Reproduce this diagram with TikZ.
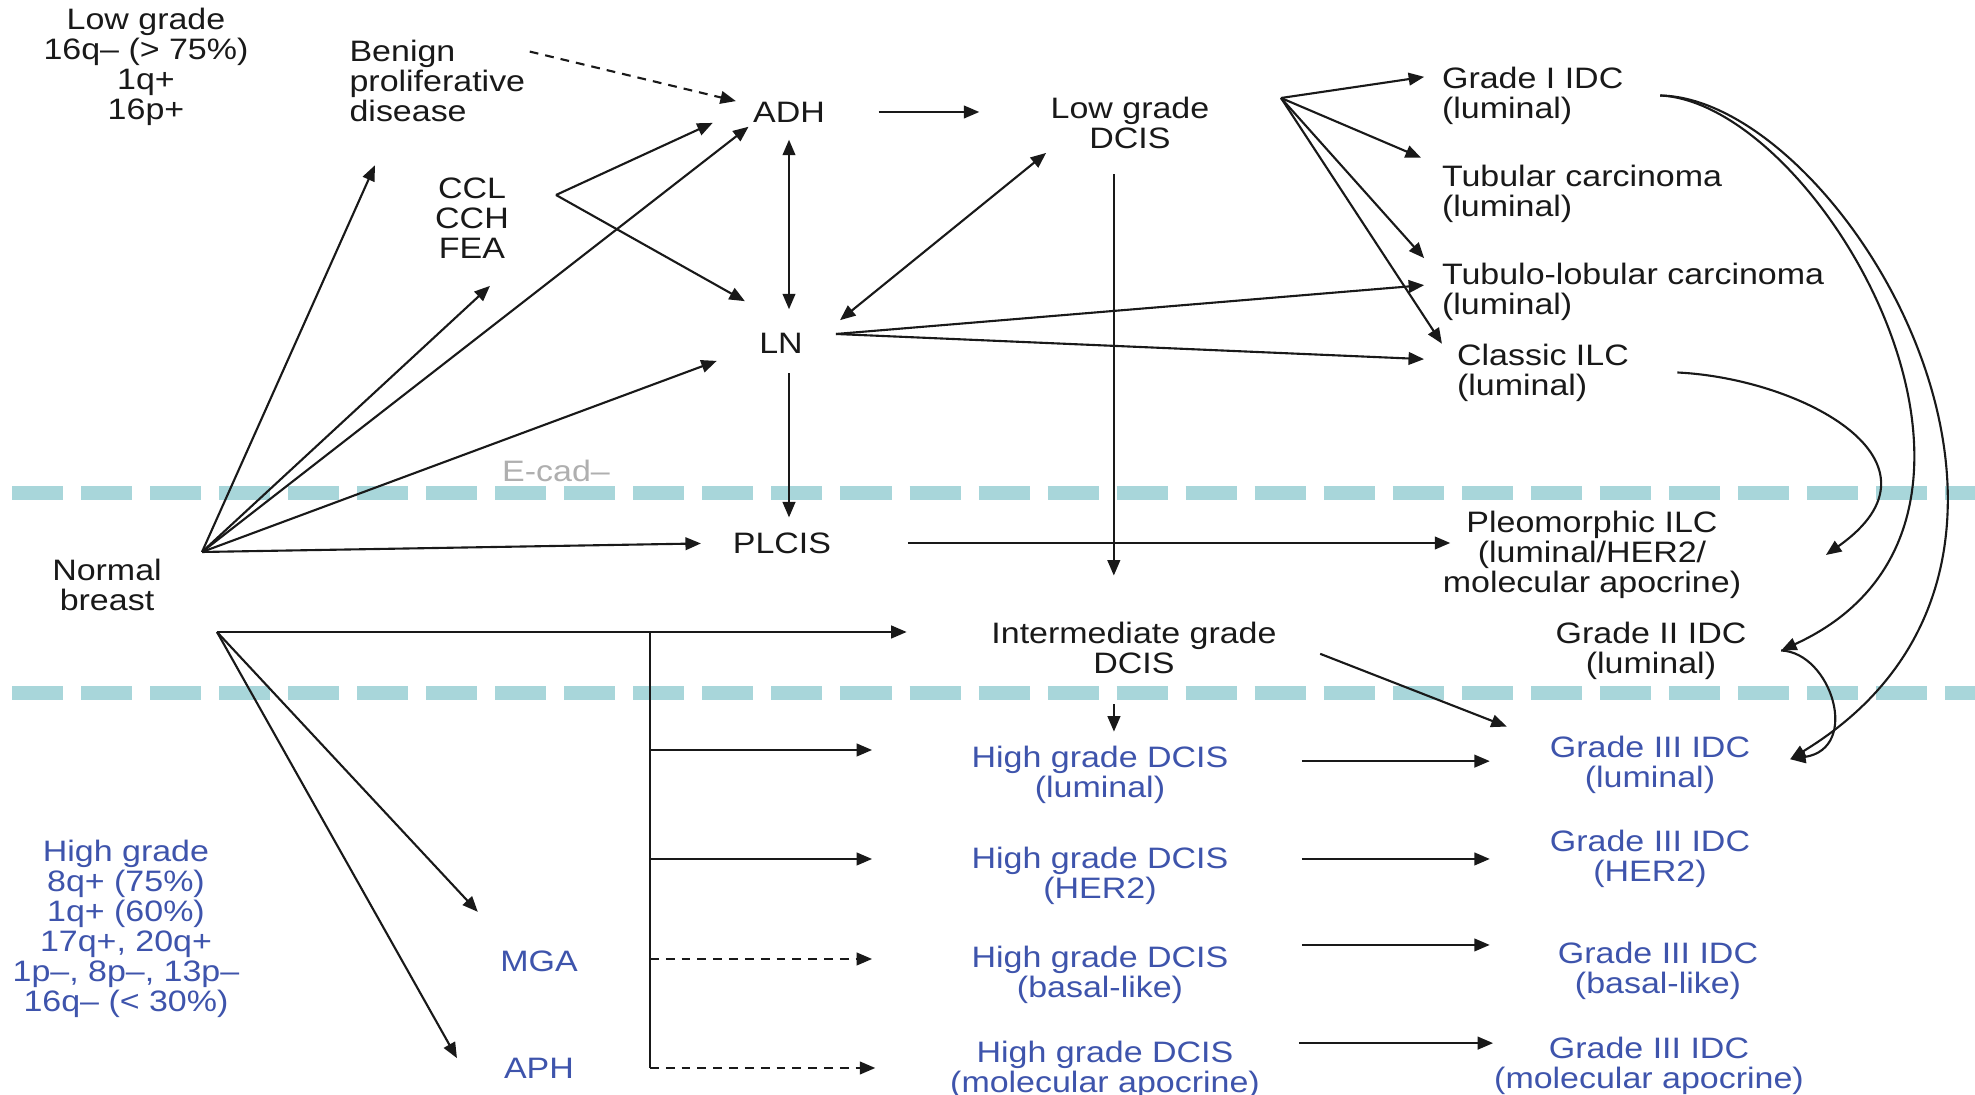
\documentclass[tikz,border=0pt]{standalone}
\usepackage{fontspec}
\setmainfont{Liberation Sans}[FakeStretch=1.15]
\usetikzlibrary{arrows.meta}
\definecolor{ink}{RGB}{25,25,25}
\definecolor{hgblue}{RGB}{62,84,172}
\definecolor{bandteal}{RGB}{168,214,218}
\definecolor{ecadgrey}{RGB}{175,175,175}
\begin{document}
\begin{tikzpicture}[x=0.01cm,y=-0.01cm,->,>={Triangle[length=4.4pt,width=3.6pt]},
                    semithick,color=ink,
                    every node/.style={font=\fontsize{8.4}{8.54}\selectfont,inner sep=1pt},
                    lbl/.style={align=center},
                    lft/.style={align=left,anchor=west},
                    hg/.style={align=center,text=hgblue},
                    dsh/.style={dash pattern=on 2.5pt off 2pt},
                    cut/.style={-,line width=4pt,draw=bandteal,dash pattern=on 0.51cm off 0.18cm}]
 \useasboundingbox (0,0) rectangle (1975,1095);
 \fill[white,-] (0,0) rectangle (1975,1095);

% E-cad and high grade cut lines
 \draw[cut] (12,493) -- (1975,493);
 \draw[cut] (12,693) -- (1975,693);

 \node [lbl]      (lowg) at (146,67) {Low grade\\16q– (> 75\%)\\1q+\\16p+};
 \node [lft]      (benign) at (345,80.5) {Benign\\proliferative\\disease};
 \node [lbl]      (ccl) at (472,218.5) {CCL\\CCH\\FEA};
 \node [lbl]      (adh) at (789,112) {ADH};
 \node [lbl]      (ln) at (781,343) {LN};
 \node [lbl]      (ldcis) at (1130,122.5) {Low grade\\DCIS};
 \node [lft]      (g1) at (1437.5,95.5) {Grade I IDC\\(luminal)};
 \node [lft]      (tub) at (1437.5,193.5) {Tubular carcinoma\\(luminal)};
 \node [lft]      (tubl) at (1437.5,291.5) {Tubulo-lobular carcinoma\\(luminal)};
 \node [lft]      (cilc) at (1452.5,372.5) {Classic ILC\\(luminal)};
 \node [lbl,text=ecadgrey] (ecad) at (556,471) {E-cad–};

 \node [lbl]      (normal) at (107,584.5) {Normal\\breast};
 \node [lbl]      (plcis) at (782,543) {PLCIS};
 \node [lbl]      (pilc) at (1592,555) {Pleomorphic ILC\\(luminal/HER2/\\molecular apocrine)};
 \node [lbl]      (idcis) at (1134,647.5) {Intermediate grade\\DCIS};
 \node [lbl]      (g2) at (1651,650.5) {Grade II IDC\\(luminal)};

 \node [hg]       (hgrade) at (126,928.5) {High grade\\8q+ (75\%)\\1q+ (60\%)\\17q+, 20q+\\1p–, 8p–, 13p–\\16q– (< 30\%)};
 \node [hg]       (mga) at (539,961) {MGA};
 \node [hg]       (aph) at (539,1068) {APH};
 \node [hg]       (hg1) at (1100,774.5) {High grade DCIS\\(luminal)};
 \node [hg]       (hg2) at (1100,875.5) {High grade DCIS\\(HER2)};
 \node [hg]       (hg3) at (1100,974.5) {High grade DCIS\\(basal-like)};
 \node [hg]       (hg4) at (1105,1069.5) {High grade DCIS\\(molecular apocrine)};
 \node [hg]       (g3a) at (1650,764.5) {Grade III IDC\\(luminal)};
 \node [hg]       (g3b) at (1650,858.5) {Grade III IDC\\(HER2)};
 \node [hg]       (g3c) at (1658,970.5) {Grade III IDC\\(basal-like)};
 \node [hg]       (g3d) at (1649,1065.5) {Grade III IDC\\(molecular apocrine)};

 \coordinate (cclfork) at (556,195);
 \coordinate (lnfork) at (836,334);
 \coordinate (ldfork) at (1281,98);
 \coordinate (nbA) at (202,552);
 \coordinate (nbB) at (217,632);
 \coordinate (trunk) at (650,632);
 \coordinate (br1) at (650,750);
 \coordinate (br2) at (650,859);
 \coordinate (br3) at (650,959);
 \coordinate (br4) at (650,1068);

 \path ([yshift=-4.7pt]benign.north east) edge [dsh] ([shift={(-3.6pt,3.1pt)}]adh.west)
       (adh.east) edge [shorten <=14pt,shorten >=19pt] (adh.east -| ldcis.west)
       (adh.south) edge [<->,shorten <=3.7pt,shorten >=5.4pt] (adh.south |- ln.north)
       (ln.south -| adh.south) edge [shorten <=4.4pt,shorten >=3pt] (adh.south |- plcis.north)

       (cclfork) edge ([shift={(-10.2pt,-3.1pt)}]adh.west)
                 edge ([shift={(-2.8pt,7.7pt)}]ln.north west)

       (nbA) edge ([shift={(8.5pt,-11.2pt)}]benign.south west)
             edge ([shift={(5.1pt,-6.4pt)}]ccl.south)
             edge (adh.south west)
             edge ([shift={(-10.8pt,-0.9pt)}]ln.south west)
             edge [shorten >=7.8pt] (plcis.west)

       (ldcis.south west) edge [<->] ([shift={(9.3pt,2.3pt)}]ln.north east)
       ([xshift=-4.6pt]ldcis.south) edge [shorten <=6.1pt,shorten >=11.8pt] ([xshift=-4.6pt]ldcis.south |- idcis.north)

       (ldfork) edge ([shift={(-3.8pt,5.3pt)}]g1.west)
                edge ([shift={(-4.7pt,0.7pt)}]tub.north west)
                edge ([xshift=-3.8pt]tubl.north west)
                edge ([shift={(-3pt,-1.3pt)}]cilc.north west)
       (lnfork) edge ([shift={(-3.8pt,1.8pt)}]tubl.west)
                edge ([shift={(-8.1pt,3.8pt)}]cilc.west)
       (plcis.east) edge [shorten <=20.5pt,shorten >=-3.4pt] (plcis.east -| pilc.west)

       (nbB) edge [shorten >=22.8pt] (nbB -| idcis.west)
             edge ([shift={(-5.1pt,9.7pt)}]mga.north west)
             edge ([shift={(-12.1pt,2.8pt)}]aph.west)

       ([xshift=-5.7pt]idcis.south) edge [shorten <=7.5pt,shorten >=2.7pt] ([xshift=-5.7pt]idcis.south |- hg1.north)
       ([shift={(11.1pt,-1.8pt)}]idcis.east) edge ([shift={(-11pt,1.3pt)}]g3a.north west);

 \draw[-] (trunk) -- (br4);
 \path (br1) edge [shorten >=27pt] (br1 -| hg1.west)
       (br2) edge [shorten >=27pt] (br2 -| hg2.west)
       (br3) edge [dsh,shorten >=27pt] (br3 -| hg3.west)
       (br4) edge [dsh,shorten >=20pt] (br4 -| hg4.west)

       ([yshift=3.8pt]hg1.east) edge [shorten <=19.6pt,shorten >=15.8pt] ([yshift=3.8pt]hg1.east -| g3a.west)
       ([yshift=4.7pt]hg2.east) edge [shorten <=19.6pt,shorten >=15.8pt] ([yshift=4.7pt]hg2.east -| g3b.west)
       ([yshift=8.4pt]hg3.east) edge [shorten <=19.6pt,shorten >=18.1pt] ([yshift=8.4pt]hg3.east -| g3c.west)
       ([yshift=7.5pt]hg4.east) edge [shorten <=9.8pt,shorten >=-1pt] ([yshift=7.5pt]hg4.east -| g3d.west);

% long bends on the right
 \draw ([xshift=9.2pt]g1.east) .. controls +(162,8) and +(280,-128) .. ([xshift=8.6pt]g2.east);
 \draw ([xshift=9.2pt]g1.east) .. controls +(182,3) and +(331,-201) .. ([shift={(10.1pt,1.5pt)}]g3a.east);
 \draw ([xshift=12.5pt]cilc.east) .. controls +(125,6) and +(132,-93) .. ([xshift=22.8pt]pilc.east);
 \draw ([xshift=8.6pt]g2.east) .. controls +(50,2) and +(71,-11) .. ([shift={(10.1pt,1.5pt)}]g3a.east);
\end{tikzpicture}
\end{document}
